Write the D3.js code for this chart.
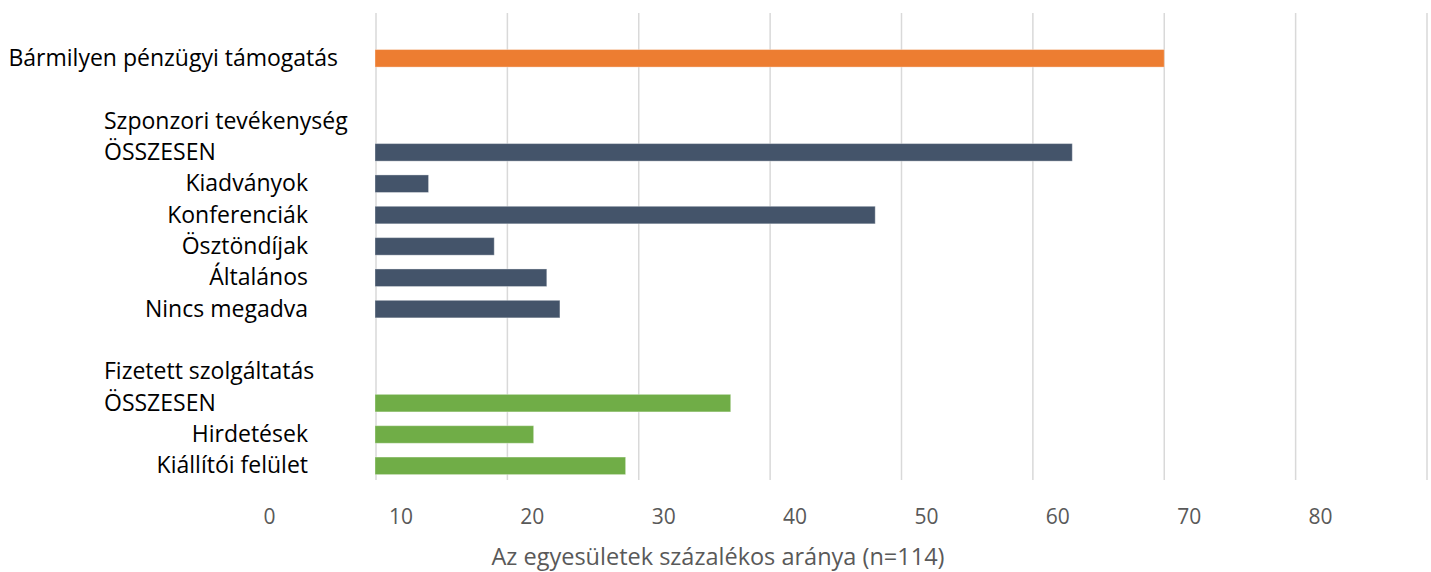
<!DOCTYPE html>
<html>
<head>
<meta charset="utf-8">
<script src="https://cdn.jsdelivr.net/npm/d3@7"></script>
<style>
  html, body { margin: 0; padding: 0; background: #fff; }
  svg { display: block; }
</style>
</head>
<body>
<svg id="chart" width="1431" height="572"></svg>
<script>
// ---- data ----
const categories = ["", "Bármilyen pénzügyi támogatás", "", "Szponzori tevékenység", "ÖSSZESEN",
  "Kiadványok", "Konferenciák", "Ösztöndíjak", "Általános", "Nincs megadva", "",
  "Fizetett szolgáltatás", "ÖSSZESEN", "Hirdetések", "Kiállítói felület"];
const values = [null, 60, null, null, 53, 4, 38, 9, 13, 14, null, null, 27, 12, 19];
const groups = [null, "any", null, "sponsor", "sponsor", "sponsor", "sponsor", "sponsor", "sponsor", "sponsor",
  null, "paid", "paid", "paid", "paid"];
const labelKinds = ["blank", "overall", "blank", "header", "total", "item", "item", "item", "item", "item",
  "blank", "header", "total", "item", "item"];
const xTicks = [0, 10, 20, 30, 40, 50, 60, 70, 80];
const axisTitle = "Az egyesületek százalékos aránya (n=114)";

// ---- styles ----
const groupColor = { any: "#ED7D31", sponsor: "#44546A", paid: "#70AD47" };
const FONT = "'Open Sans', 'Noto Sans', sans-serif";

const svg = d3.select("#chart");

const x = d3.scaleLinear().domain([0, 80]).range([376, 1427]);
const y = d3.scaleBand().domain(d3.range(categories.length)).range([11.3, 481.5])
  .paddingInner(0.44).paddingOuter(0.22);

// gridlines
svg.append("g").selectAll("line").data(xTicks).join("line")
  .attr("x1", d => x(d)).attr("x2", d => x(d))
  .attr("y1", 13).attr("y2", 480)
  .attr("stroke", "#d9d9d9").attr("stroke-width", 1.5);

// bars
const rows = values.map((v, i) => ({ i, v, g: groups[i] })).filter(d => d.v != null);
svg.append("g").selectAll("rect").data(rows).join("rect")
  .attr("x", x(0) - 1)
  .attr("y", d => y(d.i))
  .attr("width", d => x(d.v) - x(0) + 1)
  .attr("height", y.bandwidth())
  .attr("fill", d => groupColor[d.g])
  .attr("stroke", "rgba(255,255,255,0.35)")
  .attr("stroke-width", 1);

// category labels
const labelPos = {
  overall: { x: 338, anchor: "end" },
  header: { x: 104, anchor: "start" },
  total: { x: 104, anchor: "start" },
  item: { x: 308, anchor: "end" }
};
svg.append("g").selectAll("text")
  .data(categories.map((c, i) => ({ c, i, k: labelKinds[i] })).filter(d => d.k !== "blank"))
  .join("text")
  .attr("x", d => labelPos[d.k].x)
  .attr("y", d => y(d.i) + y.bandwidth() / 2)
  .attr("dy", "0.33em")
  .attr("text-anchor", d => labelPos[d.k].anchor)
  .attr("font-family", FONT)
  .attr("font-size", 23)
  .attr("fill", "#000")
  .text(d => d.c);

// x axis labels (offset from gridlines, as in the original picture)
const axisG = svg.append("g")
  .attr("transform", "translate(-107, 500)")
  .call(d3.axisBottom(x).tickValues(xTicks).tickSize(0).tickPadding(0).tickFormat(d3.format("d")));
axisG.select(".domain").remove();
axisG.selectAll("text")
  .attr("font-family", FONT)
  .attr("font-size", 21)
  .attr("fill", "#595959")
  .attr("dy", "0.71em")
  .attr("y", 9);

// axis title
svg.append("text")
  .attr("x", 718)
  .attr("y", 565)
  .attr("text-anchor", "middle")
  .attr("font-family", FONT)
  .attr("font-size", 23.5)
  .attr("fill", "#595959")
  .text(axisTitle);
</script>
</body>
</html>
